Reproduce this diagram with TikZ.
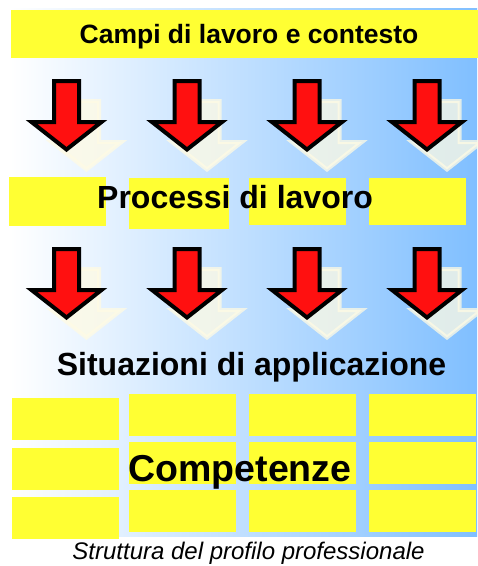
\documentclass[tikz,border=0pt]{standalone}
\usepackage{fontspec}
\setmainfont{Liberation Sans}
\definecolor{ybox}{RGB}{255,255,51}
\definecolor{bgblue}{RGB}{128,191,255}
\definecolor{ared}{RGB}{255,16,16}
\definecolor{shadowc}{RGB}{255,251,228}
\tikzset{
  ybox/.style={fill=ybox},
  heading/.style={font=\bfseries\fontsize{32}{32}\selectfont, anchor=base, inner sep=0pt},
  arrowdown/.pic={
    \filldraw[fill=shadowc, draw=shadowc, line width=4pt, opacity=0.75, miter limit=10]
      (7.5,20) -- (32.5,20) -- (32.5,61) -- (55,61) -- (20,88.5) -- (-15,61) -- (7.5,61) -- cycle;
    \filldraw[fill=ared, draw=black, line width=4pt, miter limit=10]
      (-12.5,0) -- (12.5,0) -- (12.5,41) -- (35,41) -- (0,68.5) -- (-35,41) -- (-12.5,41) -- cycle;
  }
}
\begin{document}
\begin{tikzpicture}[x=1pt, y=-1pt]
\useasboundingbox (0,0) rectangle (478,566);
\fill[white] (0,0) rectangle (478,566);
% background gradient
\shade[left color=white, right color=bgblue] (10,8) rectangle (477,536);
% title bar
\fill[ybox] (11,10) rectangle (478,57.5);
\node[heading, font=\bfseries\fontsize{26.5}{26.5}\selectfont] (title) at (249,43.5) {Campi di lavoro e contesto};
% row 1 arrows
\foreach \cx in {66.5,187,307,427} {
  \pic at (\cx,81) {arrowdown};
}
% processi boxes
\fill[ybox] (9,177) rectangle (106,226);
\fill[ybox] (129,178) rectangle (229,229);
\fill[ybox] (249,178) rectangle (346,225);
\fill[ybox] (369,178) rectangle (466,225);
\node[heading] (processi) at (235,208) {Processi di lavoro};
% row 2 arrows
\foreach \cx in {66.5,187,307,427} {
  \pic at (\cx,249) {arrowdown};
}
\node[heading] (situazioni) at (251.5,375) {Situazioni di applicazione};
% competence grid
\fill[ybox] (12,398) rectangle (119,440);
\fill[ybox] (12,448) rectangle (119,490);
\fill[ybox] (12,497) rectangle (119,539);
\foreach \xa/\xb in {129/236,249/356,369/476} {
  \fill[ybox] (\xa,394) rectangle (\xb,436);
  \fill[ybox] (\xa,442) rectangle (\xb,484);
  \fill[ybox] (\xa,490) rectangle (\xb,532);
}
\node[heading, font=\bfseries\fontsize{37.5}{37.5}\selectfont] (competenze) at (240,481.5) {Competenze};
\node[anchor=base, inner sep=0pt, font=\itshape\fontsize{24}{24}\selectfont] (caption) at (248.5,559.5) {Struttura del profilo professionale};
\end{tikzpicture}
\end{document}
